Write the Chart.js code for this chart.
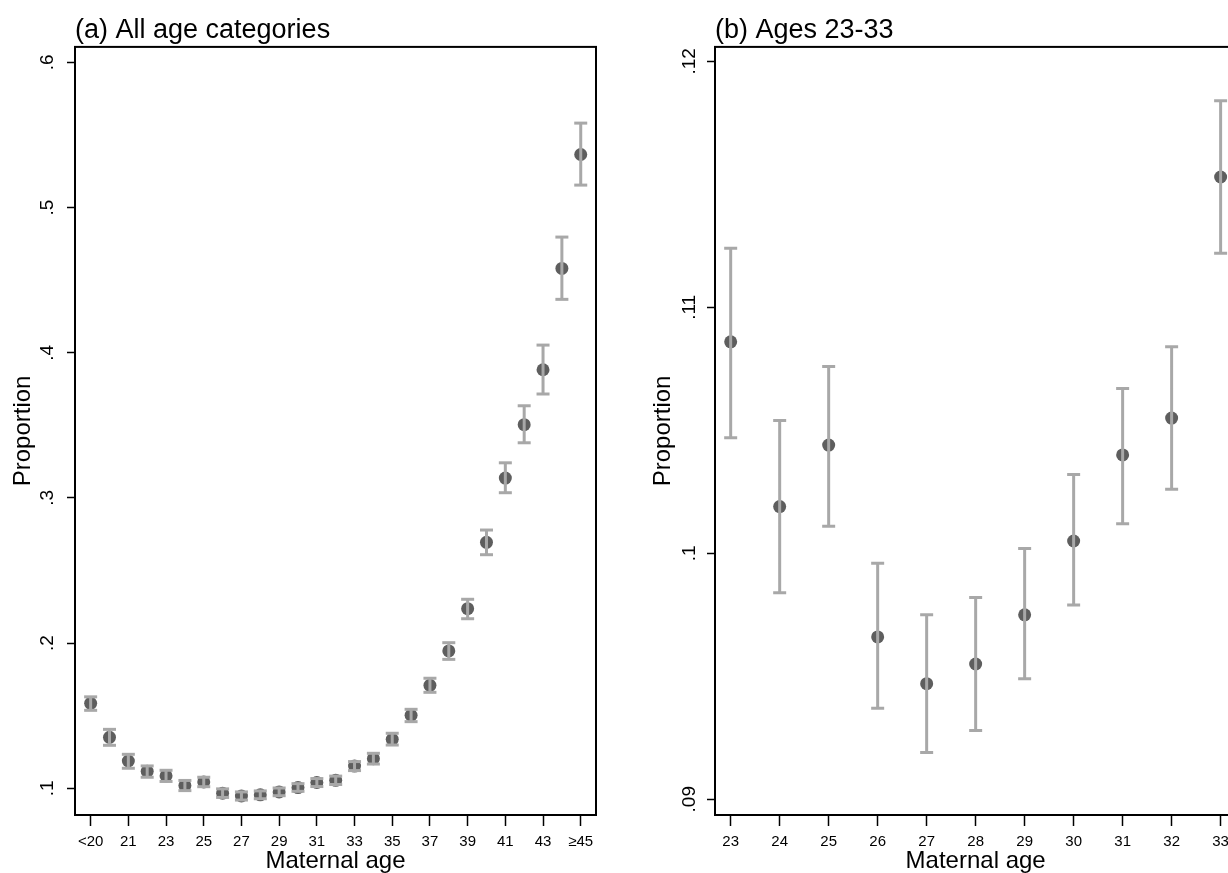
<!DOCTYPE html>
<html>
<head>
<meta charset="utf-8">
<script src="https://cdn.jsdelivr.net/npm/chart.js@4"></script>
<style>
  body { margin: 0; background: #fff; overflow: hidden; }
  #wrap { position: relative; width: 1228px; height: 873px; overflow: hidden; }
  canvas { position: absolute; top: 0; }
</style>
</head>
<body>
<div id="wrap">
  <canvas id="canvaA" width="616" height="873" style="left:0"></canvas>
  <canvas id="canvaB" width="610" height="873" style="left:640px"></canvas>
</div>
<script>
// panel (a): all age categories
const ageCats = ['<20', '20', '21', '22', '23', '24', '25', '26', '27', '28', '29', '30', '31', '32', '33',
  '34', '35', '36', '37', '38', '39', '40', '41', '42', '43', '44', '≥45']
const propAll = [0.1585, 0.1351, 0.1188, 0.1117, 0.1086, 0.1019, 0.1044, 0.0966, 0.0947, 0.0955, 0.0975,
  0.1005, 0.1040, 0.1055, 0.1153, 0.1204, 0.1337, 0.1503, 0.1709, 0.1946, 0.2237, 0.2694, 0.3137,
  0.3505, 0.3883, 0.4581, 0.5366]
const loAll = [0.1537, 0.1296, 0.1138, 0.1076, 0.1047, 0.0984, 0.1011, 0.0937, 0.0919, 0.0928, 0.0949,
  0.0979, 0.1012, 0.1026, 0.1122, 0.1167, 0.1298, 0.1459, 0.1661, 0.1888, 0.2168, 0.2609, 0.3036,
  0.3380, 0.3716, 0.4368, 0.5155]
const hiAll = [0.1630, 0.1406, 0.1234, 0.1154, 0.1124, 0.1054, 0.1076, 0.0996, 0.0975, 0.0982, 0.1002,
  0.1032, 0.1067, 0.1084, 0.1184, 0.1241, 0.1379, 0.1544, 0.1758, 0.2003, 0.2302, 0.2779, 0.3242,
  0.3635, 0.4053, 0.4797, 0.5582]
const yTicksAll = [0.1, 0.2, 0.3, 0.4, 0.5, 0.6]

// panel (b): ages 23-33
const ages2333 = [23, 24, 25, 26, 27, 28, 29, 30, 31, 32, 33]
const prop2333 = [0.1086, 0.1019, 0.1044, 0.0966, 0.0947, 0.0955, 0.0975, 0.1005, 0.1040, 0.1055, 0.1153]
const lo2333 = [0.1047, 0.0984, 0.1011, 0.0937, 0.0919, 0.0928, 0.0949, 0.0979, 0.1012, 0.1026, 0.1122]
const hi2333 = [0.1124, 0.1054, 0.1076, 0.0996, 0.0975, 0.0982, 0.1002, 0.1032, 0.1067, 0.1084, 0.1184]
const yTicks2333 = [0.09, 0.10, 0.11, 0.12]

Chart.defaults.font.family = "'Liberation Sans', Arial, sans-serif"
Chart.defaults.color = '#000'

const dotColor = '#5e5e5e'
const barColor = '#a8a8a8'

// vertical segments lo..hi, broken by nulls
function errorSegments(xs, lo, hi) {
    const pts = []
    xs.forEach((x, i) => {
        pts.push({ x: x, y: lo[i] }, { x: x, y: hi[i] }, { x: x, y: null })
    })
    return pts
}

function propLabel(v) {
    return v.toFixed(2).replace(/0+$/, '').replace(/^0/, '')
}

const frame = {
    id: 'frame',
    afterDraw(chart) {
        const a = chart.chartArea
        const c = chart.ctx
        c.save()
        c.strokeStyle = '#000'
        c.lineWidth = 2
        c.strokeRect(a.left, a.top, a.right - a.left, a.bottom - a.top)
        c.restore()
    }
}

function makePanel(ctx, cfg) {
    return new Chart(ctx, {
        type: 'scatter',
        data: {
            datasets: [{
                // error bars on top of the dots
                order: 0,
                data: errorSegments(cfg.xs, cfg.lo, cfg.hi),
                showLine: true,
                spanGaps: false,
                borderColor: barColor,
                borderWidth: 3,
                pointStyle: 'line',
                pointRadius: 6.5,
                pointBorderColor: barColor,
                pointBorderWidth: 3,
            }, {
                order: 1,
                data: cfg.xs.map((x, i) => ({ x: x, y: cfg.prop[i] })),
                pointRadius: 6.5,
                pointBackgroundColor: dotColor,
                pointBorderWidth: 0,
            }]
        },
        options: {
            responsive: false,
            animation: false,
            events: [],
            layout: { padding: { left: 0, right: cfg.padRight, top: 0, bottom: 0 } },
            scales: {
                x: {
                    type: 'linear',
                    min: cfg.xMin,
                    max: cfg.xMax,
                    afterBuildTicks: s => { s.ticks = cfg.xTicks.map(v => ({ value: v })) },
                    afterFit: s => { s.height = 58 },
                    ticks: {
                        callback: cfg.xLabel,
                        font: { size: 15 },
                        padding: 7,
                        maxRotation: 0,
                        autoSkip: false,
                    },
                    grid: { drawOnChartArea: false, tickLength: 11, tickColor: '#000', tickWidth: 1.5 },
                    border: { color: '#000', width: 2 },
                    title: { display: true, text: 'Maternal age', font: { size: 24, lineHeight: 1.0 }, padding: { top: 0, bottom: 0 } },
                },
                y: {
                    min: cfg.yMin,
                    max: cfg.yMax,
                    afterBuildTicks: s => { s.ticks = cfg.yTicks.map(v => ({ value: v })) },
                    afterFit: s => { s.width = 75 },
                    ticks: {
                        callback: propLabel,
                        font: { size: 19 },
                        minRotation: 90,
                        maxRotation: 90,
                        crossAlign: 'center',
                        padding: cfg.yPad,
                    },
                    grid: { drawOnChartArea: false, tickLength: 8, tickColor: '#000', tickWidth: 1.5 },
                    border: { color: '#000', width: 2 },
                    title: { display: true, text: 'Proportion', font: { size: 24 }, padding: { top: 9, bottom: 0 } },
                },
            },
            plugins: {
                legend: { display: false },
                tooltip: { enabled: false },
                title: {
                    display: true,
                    text: cfg.title,
                    align: 'start',
                    fullSize: false,
                    color: '#000',
                    font: { size: 27, weight: 'normal' },
                    padding: { top: 14.5, bottom: 0 },
                },
            }
        },
        plugins: [frame]
    })
}

const idxAll = ageCats.map((_, i) => i)

makePanel(document.getElementById('canvaA').getContext('2d'), {
    title: '(a) All age categories',
    xs: idxAll,
    prop: propAll,
    lo: loAll,
    hi: hiAll,
    xMin: -0.83,
    xMax: 26.81,
    xTicks: idxAll.filter(i => i % 2 === 0),
    xLabel: v => ageCats[v],
    yMin: 0.0816,
    yMax: 0.6107,
    yTicks: yTicksAll,
    yPad: 11,
    padRight: 20,
})

makePanel(document.getElementById('canvaB').getContext('2d'), {
    title: '(b) Ages 23-33',
    xs: ages2333,
    prop: prop2333,
    lo: lo2333,
    hi: hi2333,
    xMin: 22.68,
    xMax: 33.32,
    xTicks: ages2333,
    xLabel: v => String(v),
    yMin: 0.08936,
    yMax: 0.12059,
    yTicks: yTicks2333,
    yPad: 4,
    padRight: 13.7,
})
</script>
</body>
</html>
